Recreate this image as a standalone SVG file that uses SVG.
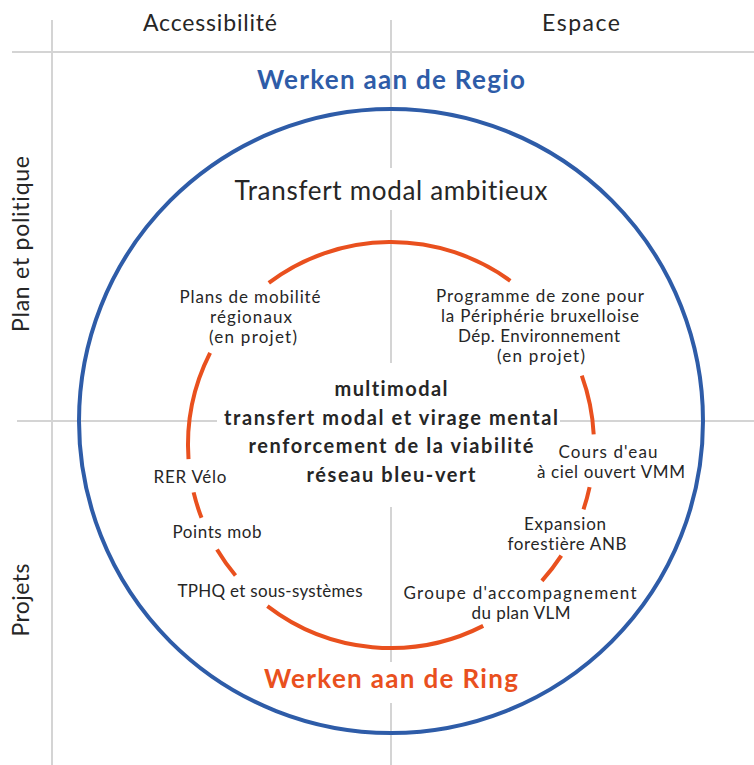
<svg xmlns="http://www.w3.org/2000/svg" width="754" height="765" viewBox="0 0 754 765">
  <style>
    .grid { stroke: #d4d4d4; stroke-width: 2; fill: none; }
    .outer { stroke: #2e5ca8; stroke-width: 4; fill: none; }
    .inner { stroke: #e9501e; stroke-width: 4; fill: none; }
    text { font-family: Lato, "Liberation Sans", sans-serif; fill: #262626; text-anchor: middle; font-variant-ligatures: none; }
    .axis { font-size: 23px; }
    .title { font-size: 26px; font-weight: 700; }
    .lead { font-size: 26px; }
    .lbl { font-size: 17px; }
    .core { font-size: 20px; font-weight: 700; }
  </style>
  <rect width="754" height="765" fill="#ffffff"/>

  <!-- quadrant grid -->
  <g id="grid">
    <line class="grid" x1="12" y1="52" x2="754" y2="52"/>
    <line class="grid" x1="52" y1="20" x2="52" y2="765"/>
    <line class="grid" x1="391" y1="20" x2="391" y2="168"/>
    <line class="grid" x1="391" y1="210" x2="391" y2="363"/>
    <line class="grid" x1="391" y1="507" x2="391" y2="662"/>
    <line class="grid" x1="391" y1="703" x2="391" y2="765"/>
    <line class="grid" x1="17" y1="421" x2="217" y2="421"/>
    <line class="grid" x1="560" y1="421" x2="754" y2="421"/>
  </g>

  <!-- axis headings -->
  <g id="axes">
    <text class="axis" x="210" y="31" textLength="134">Accessibilité</text>
    <text class="axis" x="581" y="31" textLength="78">Espace</text>
    <text class="axis" transform="translate(29,244) rotate(-90)" textLength="176">Plan et politique</text>
    <text class="axis" transform="translate(29,600) rotate(-90)" textLength="73">Projets</text>
  </g>

  <!-- region ring -->
  <g id="regio">
    <circle class="outer" cx="391" cy="421" r="312"/>
    <text class="title" x="391" y="89" style="fill:#2e5ca8" textLength="268">Werken aan de Regio</text>
    <text class="lead" x="391" y="200" textLength="313">Transfert modal ambitieux</text>
  </g>

  <!-- ring road circle, broken around its labels -->
  <g id="ring">
    <path class="inner" d="M268.8 282.9 A203 203 0 0 1 510.3 280.8"/>
    <path class="inner" d="M188.5 459.2 A203 203 0 0 1 210.1 352.8"/>
    <path class="inner" d="M201.5 517.8 A203 203 0 0 1 193.6 492.4"/>
    <path class="inner" d="M235.5 575.5 A203 203 0 0 1 217.0 549.5"/>
    <path class="inner" d="M483.2 625.9 A203 203 0 0 1 267.4 606.1"/>
    <path class="inner" d="M561.3 555.6 A203 203 0 0 1 541.9 580.8"/>
    <path class="inner" d="M589.6 487.2 A203 203 0 0 1 583.5 509.4"/>
    <path class="inner" d="M581.8 375.6 A203 203 0 0 1 593.7 434.4"/>
    <text class="title" x="391" y="688" style="fill:#e9501e" textLength="254">Werken aan de Ring</text>
  </g>

  <!-- shared goals -->
  <g id="core">
    <text class="core" x="391" y="396" textLength="113">multimodal</text>
    <text class="core" x="391" y="425" textLength="334">transfert modal et virage mental</text>
    <text class="core" x="391" y="453" textLength="285">renforcement de la viabilité</text>
    <text class="core" x="391" y="482" textLength="169">réseau bleu-vert</text>
  </g>

  <g id="plans-mobilite">
    <text class="lbl" x="250" y="303" textLength="141">Plans de mobilité</text>
    <text class="lbl" x="251" y="323" textLength="82">régionaux</text>
    <text class="lbl" x="253" y="343" textLength="88">(en projet)</text>
  </g>

  <g id="programme-zone">
    <text class="lbl" x="540" y="302" textLength="208">Programme de zone pour</text>
    <text class="lbl" x="540" y="322" textLength="198">la Périphérie bruxelloise</text>
    <text class="lbl" x="539" y="342" textLength="162">Dép. Environnement</text>
    <text class="lbl" x="541" y="362" textLength="88">(en projet)</text>
  </g>

  <g id="rer-velo">
    <text class="lbl" x="190" y="483" textLength="73">RER Vélo</text>
  </g>

  <g id="points-mob">
    <text class="lbl" x="217" y="538" textLength="89">Points mob</text>
  </g>

  <g id="tphq">
    <text class="lbl" x="270" y="597" textLength="185">TPHQ et sous-systèmes</text>
  </g>

  <g id="cours-eau">
    <text class="lbl" x="608" y="458" textLength="99">Cours d'eau</text>
    <text class="lbl" x="611" y="478" textLength="148">à ciel ouvert VMM</text>
  </g>

  <g id="expansion">
    <text class="lbl" x="565" y="530" textLength="82">Expansion</text>
    <text class="lbl" x="567" y="550" textLength="119">forestière ANB</text>
  </g>

  <g id="groupe-vlm">
    <text class="lbl" x="520" y="599" textLength="233">Groupe d'accompagnement</text>
    <text class="lbl" x="521" y="619" textLength="99">du plan VLM</text>
  </g>
</svg>
